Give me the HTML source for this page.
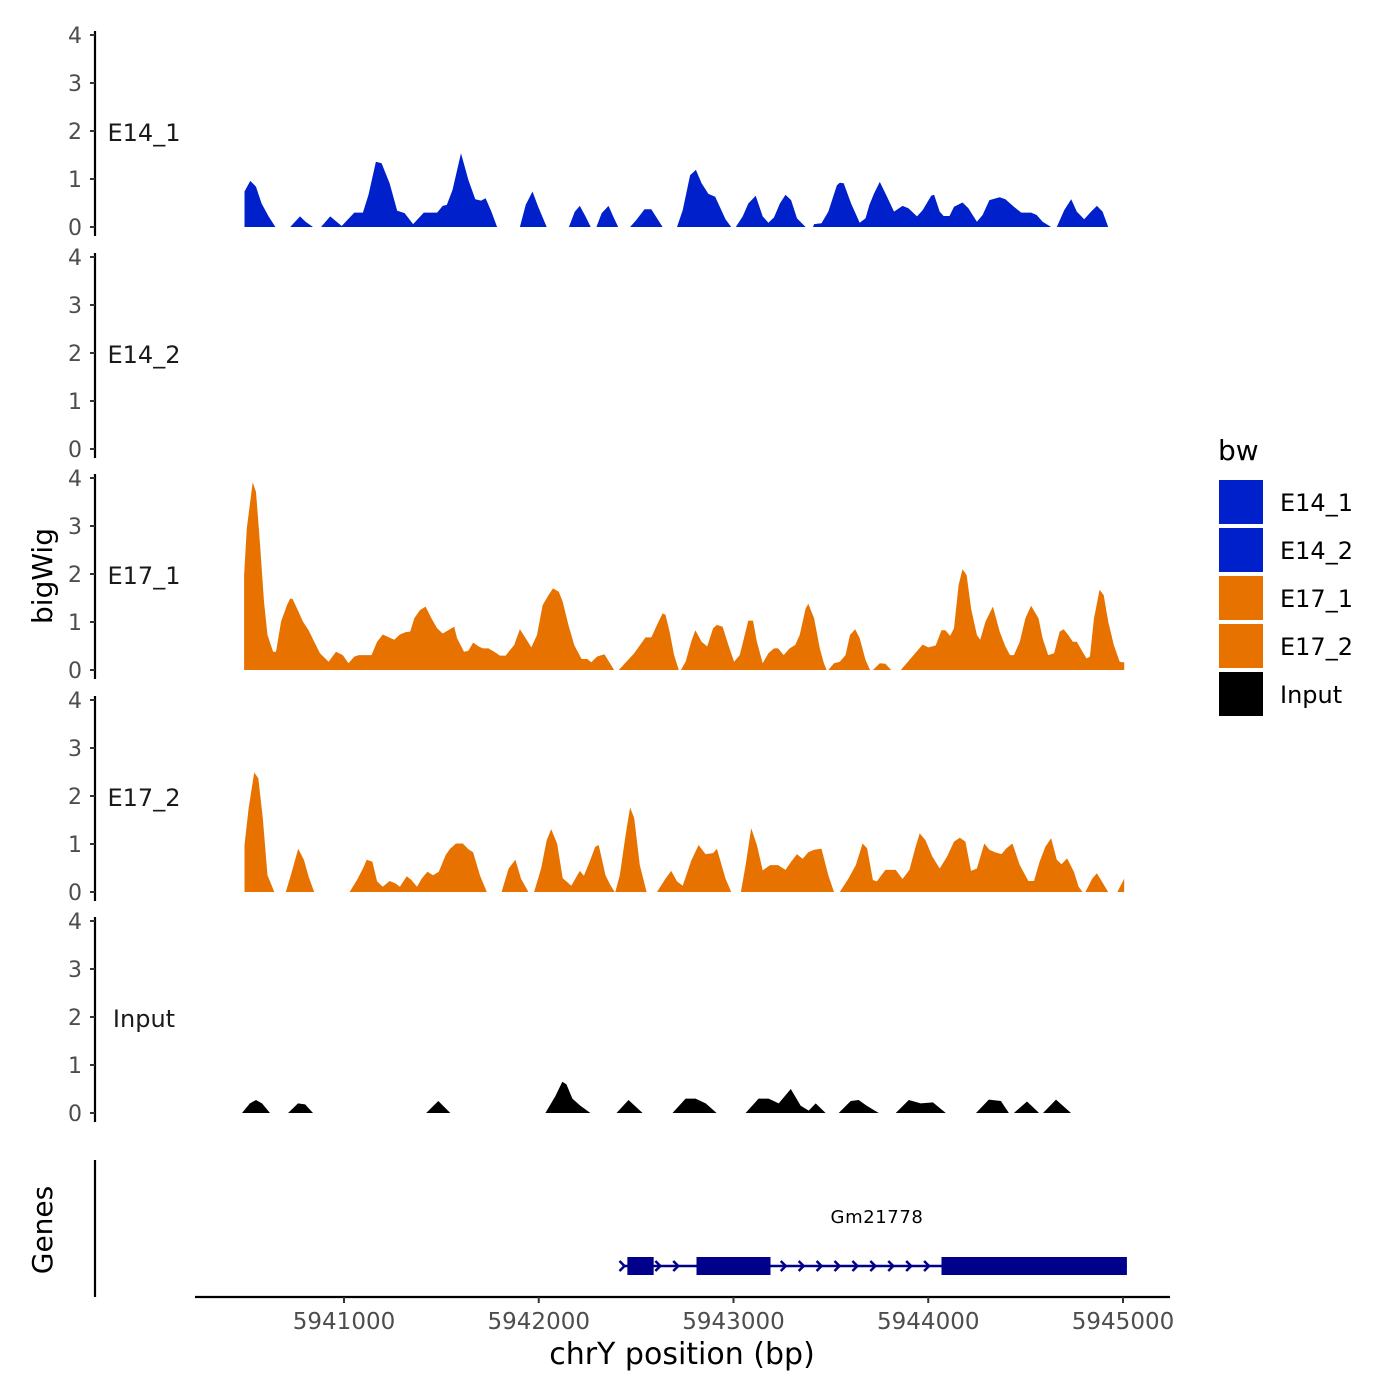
<!DOCTYPE html>
<html><head><meta charset="utf-8"><title>bigWig tracks</title>
<style>
html,body{margin:0;padding:0;background:#fff;}
svg{display:block;font-family:"DejaVu Sans","Liberation Sans",sans-serif;}
</style></head>
<body>
<svg id="chart" width="1400" height="1400" viewBox="0 0 1400 1400" xmlns="http://www.w3.org/2000/svg">
<rect width="1400" height="1400" fill="#fff"/>
<g id="panels"></g>
<g id="genes"></g>
<g id="xaxis"></g>
<text x="52" y="576" transform="rotate(-90 52 576)" text-anchor="middle" font-size="28" fill="#000">bigWig</text>
<text x="52" y="1230" transform="rotate(-90 52 1230)" text-anchor="middle" font-size="28" fill="#000">Genes</text>
<text x="682" y="1364" text-anchor="middle" font-size="30" fill="#000">chrY position (bp)</text>
<g id="legend">
<text x="1218" y="460" font-size="28" fill="#000">bw</text>
</g>
</svg>
<script>
// ---- data (positions are bp offsets from regionStart) ----
const regionStart = 5940466;
const trackNames = ["E14_1","E14_2","E17_1","E17_2","Input"];
const trackColors = ["#0020CC","#0020CC","#E87200","#E87200","#000000"];
const yTicks = [0,1,2,3,4];
const xTicks = [5941000,5942000,5943000,5944000,5945000];

const e14_1 = [
 [[23,0],[23,.74],[53,.96],[82,.84],[111,.49],[147,.22],[182,0]],
 [[258,0],[308,.22],[337,.11],[375,0]],
 [[416,0],[463,.22],[522,.02],[587,.30],[631,.30],[660,.67],[698,1.36],[727,1.33],[768,.91],[807,.34],[845,.29],[889,.06],[944,.30],[1012,.30],[1041,.44],[1062,.46],[1091,.77],[1135,1.535],[1173,.98],[1208,.58],[1238,.55],[1261,.6],[1291,.32],[1320,0]],
 [[1437,0],[1467,.46],[1502,.74],[1531,.42],[1575,0]],
 [[1689,0],[1719,.32],[1745,.44],[1774,.22],[1801,0]],
 [[1830,0],[1857,.29],[1892,.44],[1921,.18],[1942,0]],
 [[2003,0],[2038,.16],[2077,.37],[2112,.37],[2170,0]],
 [[2244,0],[2273,.35],[2311,1.08],[2341,1.19],[2370,.91],[2405,.69],[2440,.63],[2493,.16],[2522,0]],
 [[2546,0],[2581,.22],[2610,.49],[2648,.65],[2684,.22],[2713,.09],[2742,.2],[2772,.49],[2801,.67],[2830,.56],[2860,.18],[2904,0]],
 [[2942,0],[2948,.06],[2986,.08],[3021,.32],[3065,.87],[3080,.92],[3100,.91],[3138,.49],[3182,.09],[3212,.18],[3232,.46],[3256,.70],[3285,.94],[3314,.70],[3358,.32],[3402,.44],[3432,.39],[3476,.22],[3505,.35],[3549,.65],[3564,.67],[3593,.32],[3613,.23],[3643,.23],[3666,.42],[3710,.51],[3740,.39],[3784,.11],[3813,.25],[3848,.56],[3901,.62],[3930,.58],[3974,.42],[4012,.3],[4062,.3],[4091,.25],[4121,.11],[4165,0]],
 [[4194,0],[4232,.35],[4268,.58],[4297,.32],[4335,.16],[4370,.32],[4400,.44],[4429,.32],[4458,0]]
];
const e14_2 = [];
const e17_1 = [
 [[21,0],[21,1.98],[35,2.95],[65,3.91],[82,3.71],[103,2.6],[123,1.42],[141,.73],[170,.38],[185,.38],[211,1.01],[241,1.35],[258,1.49],[270,1.48],[293,1.28],[323,1.01],[352,.83],[381,.59],[411,.35],[455,.17],[493,.38],[528,.31],[557,.14],[587,.28],[610,.31],[675,.31],[704,.59],[733,.74],[792,.63],[821,.74],[851,.79],[874,.80],[895,1.08],[924,1.25],[953,1.32],[983,1.08],[1012,.87],[1041,.76],[1100,.90],[1115,.66],[1150,.38],[1173,.40],[1197,.57],[1226,.49],[1247,.45],[1276,.45],[1305,.38],[1335,.30],[1364,.30],[1408,.52],[1437,.85],[1467,.66],[1496,.47],[1525,.73],[1554,1.35],[1584,1.56],[1607,1.70],[1637,1.63],[1657,1.42],[1686,.94],[1716,.52],[1754,.23],[1783,.23],[1804,.16],[1833,.28],[1871,.33],[1906,.10],[1921,0]],
 [[1945,0],[2024,.35],[2082,.68],[2112,.68],[2141,.94],[2170,1.18],[2185,1.15],[2206,.80],[2229,.31],[2253,0]],
 [[2264,0],[2288,.17],[2317,.59],[2338,.83],[2370,.59],[2399,.49],[2429,.87],[2449,.94],[2478,.9],[2508,.52],[2537,.17],[2566,.31],[2596,.80],[2610,1.03],[2634,1.03],[2654,.59],[2684,.14],[2713,.35],[2742,.45],[2763,.45],[2792,.31],[2822,.45],[2851,.52],[2874,.73],[2904,1.28],[2918,1.38],[2948,1.08],[2977,.45],[2998,.14],[3012,0]],
 [[3021,0],[3050,.14],[3080,.17],[3109,.31],[3132,.73],[3159,.85],[3182,.66],[3212,.21],[3235,0]],
 [[3250,0],[3285,.14],[3314,.13],[3344,0]],
 [[3393,0],[3505,.53],[3534,.47],[3572,.51],[3602,.83],[3622,.83],[3646,.71],[3666,.87],[3690,1.77],[3710,2.1],[3731,1.98],[3754,1.28],[3784,.73],[3801,.63],[3828,1.01],[3866,1.32],[3901,.80],[3930,.49],[3954,.31],[3974,.31],[4004,.59],[4033,1.08],[4062,1.34],[4100,1.08],[4121,.66],[4150,.31],[4180,.35],[4209,.8],[4229,.85],[4253,.73],[4276,.59],[4297,.59],[4326,.38],[4347,.24],[4364,.28],[4385,1.08],[4414,1.67],[4435,1.56],[4458,1.01],[4487,.52],[4517,.17],[4531,.16],[4540,.16],[4540,0]]
];
const e17_2 = [
 [[23,0],[23,.98],[44,1.74],[73,2.49],[94,2.37],[117,1.54],[141,.35],[161,.15],[176,0]],
 [[235,0],[264,.39],[299,.90],[328,.67],[352,.32],[381,0]],
 [[563,0],[601,.25],[631,.49],[651,.67],[680,.63],[704,.22],[733,.11],[768,.23],[798,.18],[821,.11],[856,.33],[880,.25],[909,.11],[933,.28],[962,.42],[991,.35],[1021,.42],[1056,.77],[1079,.90],[1109,1.01],[1144,1.01],[1173,.89],[1197,.83],[1232,.35],[1267,0]],
 [[1343,0],[1379,.49],[1414,.67],[1443,.28],[1481,0]],
 [[1510,0],[1546,.49],[1575,1.08],[1598,1.31],[1628,1.01],[1657,.29],[1701,.13],[1745,.44],[1766,.34],[1795,.63],[1824,.94],[1842,.98],[1877,.35],[1901,.15],[1924,0]],
 [[1927,0],[1950,.35],[1980,1.19],[2003,1.76],[2024,1.54],[2053,.56],[2088,0]],
 [[2141,0],[2185,.28],[2214,.44],[2244,.22],[2273,.13],[2317,.65],[2355,.98],[2390,.79],[2429,.81],[2449,.9],[2493,.28],[2522,0]],
 [[2572,0],[2596,.56],[2625,1.33],[2654,.98],[2684,.45],[2722,.56],[2763,.56],[2801,.46],[2830,.63],[2860,.79],[2889,.69],[2918,.83],[2948,.88],[2986,.9],[3021,.35],[3050,0]],
 [[3080,0],[3124,.28],[3162,.56],[3197,1.01],[3220,.91],[3250,.25],[3270,.22],[3314,.46],[3367,.46],[3402,.27],[3437,.46],[3467,.91],[3490,1.22],[3520,1.08],[3555,.74],[3593,.49],[3631,.74],[3666,1.05],[3696,1.13],[3725,1.05],[3754,.44],[3784,.49],[3822,1.01],[3848,.88],[3877,.83],[3910,.79],[3936,.91],[3966,1.01],[4004,.56],[4048,.23],[4077,.23],[4106,.63],[4135,.94],[4165,1.12],[4194,.67],[4218,.58],[4247,.70],[4282,.42],[4306,.11],[4326,0]],
 [[4341,0],[4376,.28],[4400,.39],[4458,0]],
 [[4505,0],[4540,.28],[4540,0]]
];
const inputTrack = [
 [[10,0],[51,.2],[82,.27],[113,.2],[154,0]],
 [[247,0],[298,.2],[334,.18],[375,0]],
 [[956,0],[1018,.25],[1080,0]],
 [[1568,0],[1619,.35],[1655,.65],[1676,.6],[1707,.3],[1748,.15],[1799,0]],
 [[1933,0],[1995,.27],[2067,0]],
 [[2221,0],[2288,.3],[2339,.3],[2391,.2],[2447,0]],
 [[2596,0],[2663,.3],[2714,.3],[2766,.2],[2828,.5],[2879,.15],[2920,.05],[2956,.2],[3007,0]],
 [[3074,0],[3136,.25],[3177,.27],[3218,.15],[3280,0]],
 [[3367,0],[3434,.27],[3496,.2],[3558,.22],[3624,0]],
 [[3779,0],[3845,.28],[3907,.25],[3948,0]],
 [[3974,0],[4041,.24],[4103,0]],
 [[4123,0],[4190,.28],[4267,0]]
];
const trackData = [e14_1, e14_2, e17_1, e17_2, inputTrack];

const geneName = "Gm21778";
const geneStart = 5942430;
const geneEnd = 5945020;
const exonStarts = [5942455, 5942810, 5944068];
const exonEnds = [5942590, 5943190, 5945020];

// ---- scales ----
const NS = "http://www.w3.org/2000/svg";
function xScale(bp){ return 344 + (bp - 5941000) * (1123 - 344) / 4000; }
const panelZero = [227, 449, 670, 892, 1113];
const unitPx = 48;
function yScale(panel, v){ return panelZero[panel] - v * unitPx; }
function mk(tag, attrs, parent){
  const el = document.createElementNS(NS, tag);
  for (const k in attrs) el.setAttribute(k, attrs[k]);
  parent.appendChild(el);
  return el;
}

const panelsG = document.getElementById('panels');
trackNames.forEach((name, p) => {
  const g = mk('g', {}, panelsG);
  
  
  const z = panelZero[p];
  const axis = mk('line', {x1:95, x2:95, y1:z-196, y2:z+9, stroke:'#000', 'stroke-width':2.2}, g);
  
  
  yTicks.forEach(t => {
    const y = yScale(p, t);
    const tk = mk('line', {x1:90, x2:95, y1:y, y2:y, stroke:'#333', 'stroke-width':2}, g);
    
    
    const tl = mk('text', {x:82, y:y+8, 'text-anchor':'end', 'font-size':22, fill:'#4d4d4d'}, g);
    tl.textContent = t;
    
    
  });
  const lab = mk('text', {x:144, y:yScale(p,2)+10, 'text-anchor':'middle', 'font-size':24, fill:'#1a1a1a'}, g);
  lab.textContent = name;
  
  
  trackData[p].forEach(seg => {
    let d = '';
    seg.forEach((pt, i) => {
      d += (i ? 'L' : 'M') + xScale(regionStart + pt[0]).toFixed(1) + ',' + yScale(p, pt[1]).toFixed(1);
    });
    d += 'L' + xScale(regionStart + seg[seg.length-1][0]).toFixed(1) + ',' + z + 'L' + xScale(regionStart + seg[0][0]).toFixed(1) + ',' + z + 'Z';
    const area = mk('path', {d:d, fill:trackColors[p]}, g);
    
    
  });
});

// genes panel
const genesG = document.getElementById('genes');
const gAxis = mk('line', {x1:95, x2:95, y1:1160, y2:1297, stroke:'#000', 'stroke-width':2.2}, genesG);


const gy = 1266;
const gline = mk('line', {x1:xScale(geneStart), x2:xScale(geneEnd), y1:gy, y2:gy, stroke:'#00008B', 'stroke-width':2.5}, genesG);


for (let bp = geneStart; bp < geneEnd; bp += 92) {
  const x = xScale(bp);
  let inExon = false;
  exonStarts.forEach((s, i) => { if (bp > s - 30 && bp < exonEnds[i] + 20) inExon = true; });
  if (inExon && bp !== geneStart) continue;
  const ar = mk('polyline', {points:(x-3)+','+(gy-5)+' '+(x+2)+','+gy+' '+(x-3)+','+(gy+5), fill:'none', stroke:'#00008B', 'stroke-width':2.5}, genesG);
  
  
}
exonStarts.forEach((s, i) => {
  const ex = mk('rect', {x:xScale(s), y:gy-9, width:xScale(exonEnds[i]) - xScale(s), height:18, fill:'#00008B'}, genesG);
  
  
});
const gl = mk('text', {x:877, y:1223, 'text-anchor':'middle', 'font-size':18, fill:'#000', 'letter-spacing':'0.6'}, genesG);
gl.textContent = geneName;



// x axis
const xg = document.getElementById('xaxis');
const xl = mk('line', {x1:195, x2:1170, y1:1297, y2:1297, stroke:'#000', 'stroke-width':2.2}, xg);


xTicks.forEach(t => {
  const x = xScale(t);
  const tk = mk('line', {x1:x, x2:x, y1:1297, y2:1303, stroke:'#333', 'stroke-width':2}, xg);
  
  
  const tl = mk('text', {x:x, y:1329, 'text-anchor':'middle', 'font-size':23, fill:'#4d4d4d'}, xg);
  tl.textContent = t;
  
  
});

// legend
const lg = document.getElementById('legend');
trackNames.forEach((name, i) => {
  const y = 480 + i * 48;
  const r = mk('rect', {x:1219, y:y, width:44, height:44, fill:trackColors[i]}, lg);
  
  
  const t = mk('text', {x:1280, y:y+31, 'font-size':24, fill:'#000'}, lg);
  t.textContent = name;
  
  
});
</script>
</body></html>
